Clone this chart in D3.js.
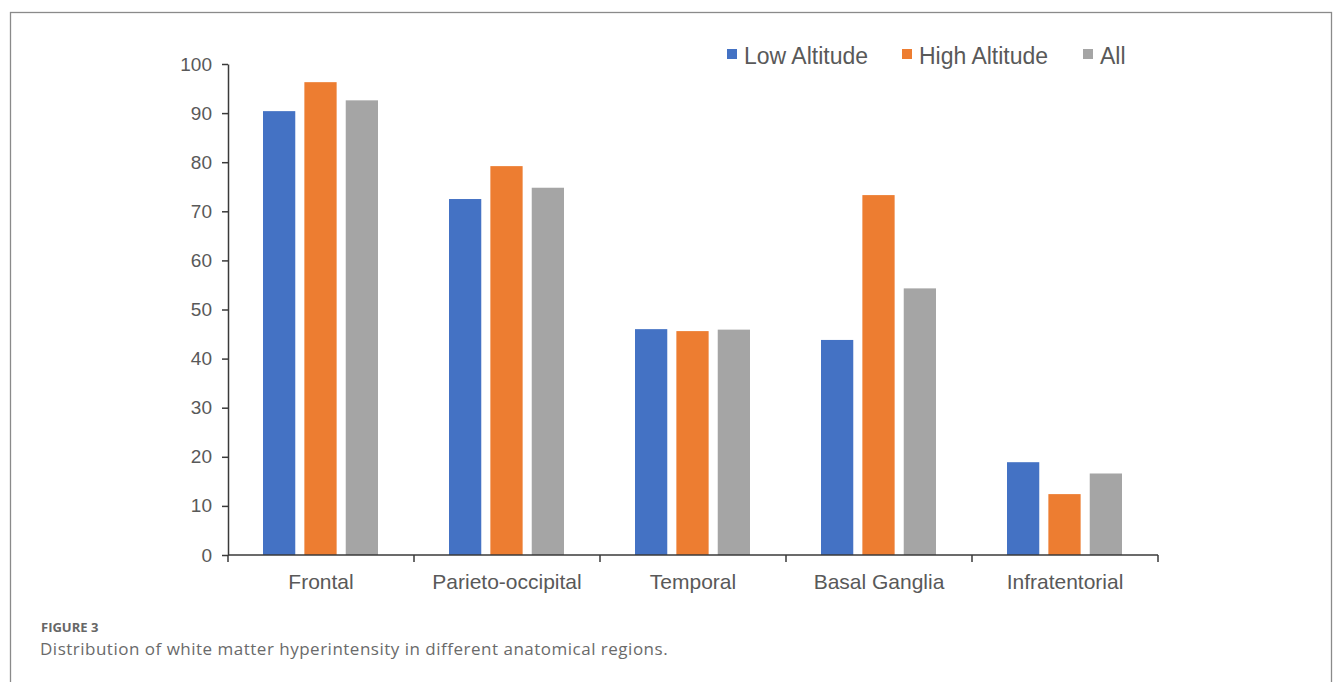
<!DOCTYPE html>
<html>
<head>
<meta charset="utf-8">
<script src="https://cdn.jsdelivr.net/npm/d3@7"></script>
<style>
  html, body { margin: 0; padding: 0; background: #fff; }
  svg { display: block; }
  .chart-text { font-family: Arial, "Liberation Sans", Helvetica, sans-serif; }
</style>
</head>
<body>
<svg id="chart" width="1335" height="682"></svg>
<script>
// White matter hyperintensity by anatomical region (%)
const categories = ["Frontal", "Parieto-occipital", "Temporal", "Basal Ganglia", "Infratentorial"];
const seriesNames = ["Low Altitude", "High Altitude", "All"];
const lowAltitude = [90.4, 72.5, 46.0, 43.8, 18.9];
const highAltitude = [96.3, 79.2, 45.6, 73.3, 12.4];
const allSubjects = [92.6, 74.8, 45.9, 54.3, 16.6];
const yTicks = [0, 10, 20, 30, 40, 50, 60, 70, 80, 90, 100];
const colors = ["#4472C4", "#ED7D31", "#A5A5A5"];

const seriesValues = [lowAltitude, highAltitude, allSubjects];

const svg = d3.select("#chart");
const textColor = "#595959";
const axisColor = "#3a3a3a";

// figure frame
svg.append("rect")
  .attr("x", 10.5).attr("y", 12.5)
  .attr("width", 1321).attr("height", 700)
  .attr("fill", "none").attr("stroke", "#8a8a8a").attr("stroke-width", 1.3);

const plot = { left: 228, right: 1158, top: 64, bottom: 555 };

const x0 = d3.scaleBand().domain(categories).range([plot.left, plot.right]).paddingInner(0).paddingOuter(0);
const groupPad = 35;
const x1 = d3.scaleBand().domain(seriesNames)
  .range([groupPad, x0.bandwidth() - groupPad - 1]).paddingInner(0.22);
const y = d3.scaleLinear().domain([0, 100]).range([plot.bottom, plot.top]);

// bars
const groups = svg.append("g").selectAll("g")
  .data(categories)
  .join("g")
  .attr("transform", d => `translate(${x0(d)},0)`);

groups.selectAll("rect")
  .data((d, i) => seriesNames.map((s, j) => ({ s, v: seriesValues[j][i], c: colors[j] })))
  .join("rect")
  .attr("x", d => x1(d.s))
  .attr("width", x1.bandwidth())
  .attr("y", d => y(d.v))
  .attr("height", d => y(0) - y(d.v))
  .attr("fill", d => d.c);

// y axis
const yAxis = svg.append("g")
  .attr("transform", `translate(${plot.left},0)`)
  .call(d3.axisLeft(y).tickValues(yTicks).tickSize(6).tickPadding(10).tickSizeOuter(0));
yAxis.attr("font-family", null).attr("font-size", null);
yAxis.select(".domain").attr("stroke", axisColor).attr("stroke-width", 1.5);
yAxis.selectAll(".tick line").attr("stroke", axisColor).attr("stroke-width", 1.5);
yAxis.selectAll(".tick text")
  .attr("class", "chart-text")
  .attr("fill", textColor).style("font-size", "19px");

// x axis with ticks at category boundaries
const xAxisG = svg.append("g").attr("transform", `translate(0,${plot.bottom})`);
xAxisG.append("line")
  .attr("x1", plot.left).attr("x2", plot.right)
  .attr("stroke", axisColor).attr("stroke-width", 1.5);
const boundaries = categories.map(c => x0(c)).concat([x0(categories[categories.length - 1]) + x0.bandwidth()]);
xAxisG.selectAll("line.tick")
  .data(boundaries)
  .join("line")
  .attr("class", "tick")
  .attr("x1", d => d).attr("x2", d => d)
  .attr("y1", 0).attr("y2", 7)
  .attr("stroke", axisColor).attr("stroke-width", 1.5);
xAxisG.selectAll("text")
  .data(categories)
  .join("text")
  .attr("class", "chart-text")
  .attr("x", d => x0(d) + x0.bandwidth() / 2)
  .attr("y", 34)
  .attr("text-anchor", "middle")
  .attr("fill", textColor)
  .style("font-size", "21px")
  .text(d => d);

// legend
const legendX = [727, 902, 1083];
const legend = svg.append("g");
const items = legend.selectAll("g")
  .data(seriesNames)
  .join("g")
  .attr("transform", (d, i) => `translate(${legendX[i]},49)`);
items.append("rect")
  .attr("width", 10).attr("height", 10)
  .attr("fill", (d, i) => colors[i]);
items.append("text")
  .attr("class", "chart-text")
  .attr("x", 17).attr("y", 15)
  .attr("fill", textColor)
  .style("font-size", "23px")
  .text(d => d);

// caption
svg.append("text")
  .attr("x", 41).attr("y", 632)
  .attr("fill", "#666")
  .style("font-family", "'Open Sans', sans-serif")
  .style("font-size", "13px")
  .style("font-weight", "700")
  .text("FIGURE 3");
svg.append("text")
  .attr("x", 40).attr("y", 655)
  .attr("fill", "#6a6a6a")
  .style("font-family", "'Open Sans', sans-serif")
  .style("font-size", "17px")
  .style("letter-spacing", "0.5px")
  .text("Distribution of white matter hyperintensity in different anatomical regions.");
</script>
</body>
</html>
